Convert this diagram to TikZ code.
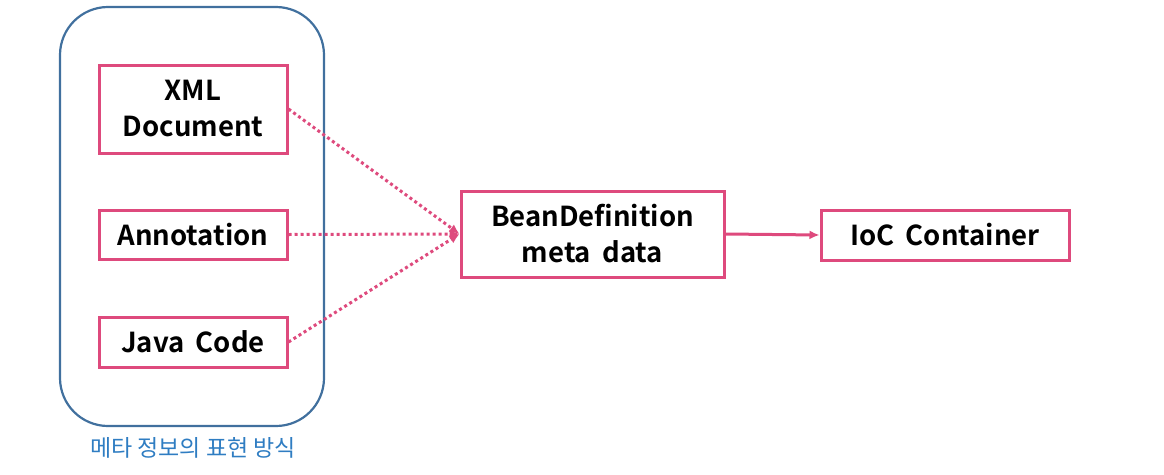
\documentclass[tikz,border=0pt]{standalone}
\usepackage{fontspec}
\newfontfamily\lab{Noto Sans CJK KR}[UprightFont=* Bold,WordSpace=1.8]
\newfontfamily\kr{Noto Sans CJK KR}
\usetikzlibrary{arrows.meta}
\definecolor{pinkc}{HTML}{DE4A7D}
\definecolor{bluec}{HTML}{41709E}
\definecolor{labblue}{HTML}{2F7DC2}
\begin{document}
\begin{tikzpicture}[x=1pt,y=-1pt,
  box/.style={draw=pinkc,line width=3pt,inner sep=0pt,align=center,font=\lab\fontsize{27.5}{36}\selectfont,text=black},
  dotline/.style={pinkc,line width=3pt,dash pattern=on 3pt off 3pt,-{Latex[length=10pt,width=9pt]}},
  solidline/.style={pinkc,line width=3pt,-{Latex[length=10pt,width=9pt]}}]
\useasboundingbox (0,0) rectangle (1164,474);
\draw[bluec,line width=2.2pt,rounded corners=48pt] (60,7) rectangle (324,426);
\node[box,minimum width=188pt,minimum height=88pt] (xml) at (193,109) {XML\\Document};
\node[box,minimum width=188pt,minimum height=49pt] (ann) at (193,234.5) {Annotation};
\node[box,minimum width=188pt,minimum height=50pt] (java) at (193,342) {Java Code};
\node[box,minimum width=263pt,minimum height=86pt] (bean) at (592.5,234) {BeanDefinition\\meta data};
\node[box,minimum width=248pt,minimum height=50pt] (ioc) at (945,235) {IoC Container};
\node[text=labblue,font=\kr\fontsize{23}{26}\selectfont,inner sep=0pt] (cap) at (193,448) {메타 정보의 표현 방식};
\draw[dotline] (xml.east) -- (bean.west);
\draw[dotline] (ann.east) -- (bean.west);
\draw[dotline] (java.east) -- (bean.west);
\draw[solidline] (bean.east) -- (ioc.west);
\end{tikzpicture}
\end{document}
